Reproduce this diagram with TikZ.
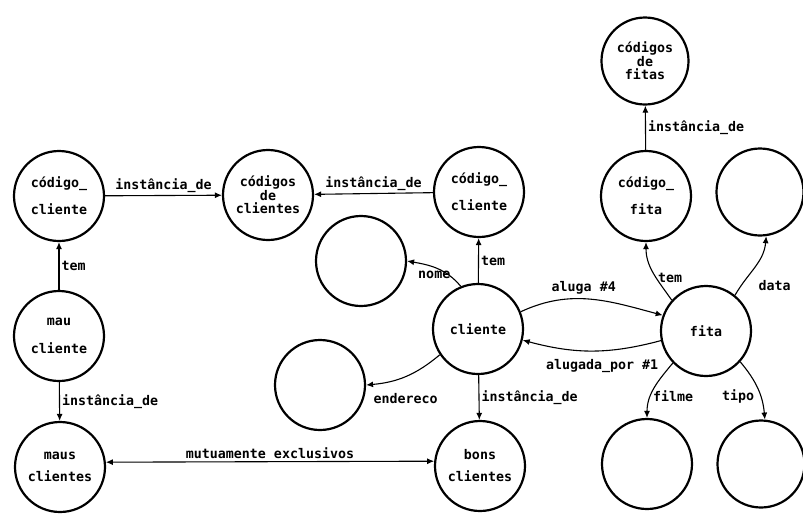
\documentclass[tikz,border=0pt]{standalone}
\usepackage{fontspec}
\setmonofont{DejaVu Sans Mono}
\usetikzlibrary{arrows.meta}
\newcommand{\dmfont}{\ttfamily\bfseries\fontsize{13.3}{15}\selectfont}
\newcommand{\dmtight}{\ttfamily\bfseries\fontsize{13.3}{13.5}\selectfont}
\begin{document}
\begin{tikzpicture}[x=1pt,y=-1pt,
  ent/.style={circle, draw, line width=2.2pt, minimum size=90pt, inner sep=0pt,
              align=center, font=\dmfont},
  enttight/.style={ent, font=\dmtight},
  rel/.style={line width=1.1pt, -{Latex[length=7pt,width=6pt]}},
  lbl/.style={font=\dmfont, inner sep=2pt},
]
\useasboundingbox (0,0) rectangle (803,515);

% entities
\node[ent] (cc1) at (59,196) {código\_\\[12pt]cliente};
\node[enttight] (ccs) at (268,195) {códigos\\de\\clientes};
\node[ent] (cc2) at (479,192) {código\_\\[12pt]cliente};
\node[ent] (nome) at (361,261) {};
\node[ent] (cli) at (478,329) {cliente};
\node[ent] (ender) at (320,385) {};
\node[ent] (bons) at (480,466) {bons\\[7pt]clientes};
\node[ent] (maus) at (60,467) {maus\\[7pt]clientes};
\node[ent] (mau) at (59,336) {mau\\[13pt]cliente};
\node[enttight, minimum size=87pt] (cfs) at (645,61) {códigos\\de\\fitas};
\node[ent] (cf) at (646,196) {código\_\\[12pt]fita};
\node[ent, minimum size=87pt] (dat) at (760,192) {};
\node[ent] (fita) at (706,331) {fita};
\node[ent] (fil) at (647,464) {};
\node[ent, minimum size=87pt] (tp) at (761,464) {};

% straight relations
\draw[rel] (cc1) -- node[lbl,above]{instância\_de} (ccs);
\draw[rel] (cc2) -- node[lbl,above]{instância\_de} (ccs);
\draw[rel] (mau) -- node[lbl,right]{tem} (cc1);
\draw[rel] (mau) -- node[lbl,right]{instância\_de} (maus);
\draw[rel] (cli) -- node[lbl,right]{tem} (cc2);
\draw[rel] (cli) -- node[lbl,right]{instância\_de} (bons);
\draw[rel] (cf) -- node[lbl,right]{instância\_de} (cfs);
\draw[line width=1.1pt, {Latex[length=7pt,width=6pt]}-{Latex[length=7pt,width=6pt]}]
  (maus.6) -- node[lbl,above]{mutuamente exclusivos} (bons.174);

% curved relations
\draw[rel] (cli.112) to[out=130, in=-10] node[lbl, pos=0.55, below=1pt]{nome} (nome.0);
\draw[rel] (cli.214) to[out=220, in=5] node[lbl, pos=0.5, below=14pt]{endereco} (ender.0);
\draw[rel] (cli.22) to[out=25, in=165] node[lbl, pos=0.45, above=2pt]{aluga \#4} (fita.160);
\draw[rel] (fita.192) to[out=195, in=-15] node[lbl, pos=0.42, below=6pt]{alugada\_por \#1} (cli.-14);
\draw[rel] (fita.138) to[out=125, in=-90] node[lbl, pos=0.4, right=-1pt]{tem} (cf.south);
\draw[rel] (fita.51) to[out=60, in=-95] node[lbl, pos=0.15, right=15pt]{data} (dat.-82);
\draw[rel] (fita.224) to[out=230, in=90] node[lbl, pos=0.65, right=0pt]{filme} (fil.north);
\draw[rel] (fita.-42) to[out=-50, in=95] node[lbl, pos=0.65, left=4pt]{tipo} (tp.85);
\end{tikzpicture}
\end{document}
